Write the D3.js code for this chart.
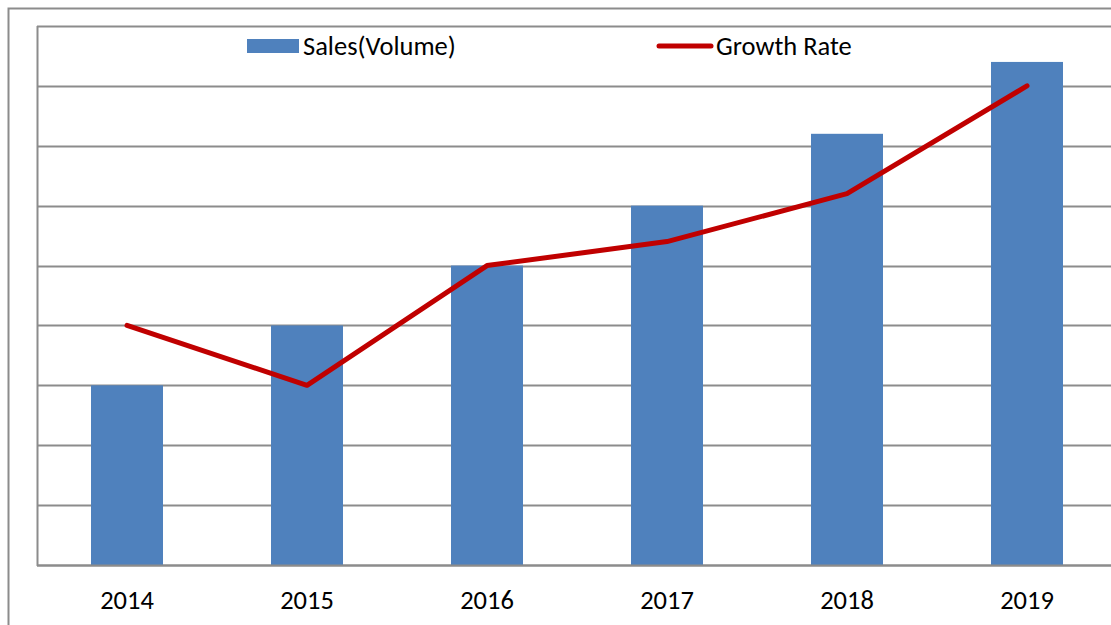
<!DOCTYPE html>
<html>
<head>
<meta charset="utf-8">
<script src="https://cdn.jsdelivr.net/npm/d3@7"></script>
<style>
	body{margin:0;background:#fff;}
	text{font-family:Calibri,Carlito,"Liberation Sans",Arial,sans-serif;fill:#000;}
</style>
</head>
<body>
<div id="chart_div"></div>
<script>
////////////////////////////////////////

var years = ['2014','2015','2016','2017','2018','2019'];
var salesVolume = [3, 4, 5, 6, 7.2, 8.4];
var growthRate = [4, 3, 5, 5.4, 6.2, 8];
var gridTicks = [0,1,2,3,4,5,6,7,8,9];

var chart_w = 1111;
var chart_h = 625;

////////////////////////////////////////

var vis = d3.select('#chart_div')
	.append('svg')
	.attr('width',chart_w)
	.attr('height',chart_h);

// outer frame
vis.append('path')
	.attr('d','M8.5,'+chart_h+'V8.5H'+chart_w)
	.attr('fill','none')
	.attr('stroke','#8c8c8c')
	.attr('stroke-width',2);

var x = d3.scaleBand()
	.domain(years)
	.range([37,37+180*6])
	.padding(0);

var y = d3.scaleLinear()
	.domain([0,9])
	.range([565,26]);

// gridlines
vis.selectAll('line.grid')
	.data(gridTicks)
	.enter()
		.append('line')
		.attr('class','grid')
		.attr('x1',37)
		.attr('x2',chart_w)
		.attr('y1',function(d){ return Math.round(y(d))+0.5; })
		.attr('y2',function(d){ return Math.round(y(d))+0.5; })
		.attr('stroke','#8c8c8c')
		.attr('stroke-width',2);

vis.append('line')
	.attr('x1',37.5).attr('x2',37.5)
	.attr('y1',y(9)).attr('y2',y(0)+1)
	.attr('stroke','#8c8c8c')
	.attr('stroke-width',2);

// bars
var barW = x.bandwidth()*0.4;
vis.selectAll('rect.bar')
	.data(salesVolume)
	.enter()
		.append('rect')
		.attr('class','bar')
		.attr('x',function(d,i){ return x(years[i])+x.bandwidth()/2-barW/2; })
		.attr('y',function(d){ return y(d); })
		.attr('width',barW)
		.attr('height',function(d){ return y(0)-y(d); })
		.attr('fill','#4f81bd');

// redraw axis line over bars
vis.append('line')
	.attr('x1',37).attr('x2',chart_w)
	.attr('y1',Math.round(y(0))+0.5).attr('y2',Math.round(y(0))+0.5)
	.attr('stroke','#8c8c8c')
	.attr('stroke-width',2);

// growth line
var line = d3.line()
	.x(function(d,i){ return x(years[i])+x.bandwidth()/2; })
	.y(function(d){ return y(d); });

vis.append('path')
	.datum(growthRate)
	.attr('d',line)
	.attr('fill','none')
	.attr('stroke','#c00000')
	.attr('stroke-width',5)
	.attr('stroke-linejoin','round')
	.attr('stroke-linecap','round');

// x axis labels
vis.selectAll('text.xlabel')
	.data(years)
	.enter()
		.append('text')
		.attr('class','xlabel')
		.attr('x',function(d){ return x(d)+x.bandwidth()/2; })
		.attr('y',609)
		.attr('text-anchor','middle')
		.attr('font-size',26.5)
		.text(function(d){ return d; });

////////////////////////////////////////
// legend

vis.append('rect')
	.attr('x',247).attr('y',39)
	.attr('width',52).attr('height',14)
	.attr('fill','#4f81bd');

vis.append('text')
	.attr('x',303).attr('y',55)
	.attr('font-size',26.5)
	.text('Sales(Volume)');

vis.append('line')
	.attr('x1',659).attr('x2',711)
	.attr('y1',46).attr('y2',46)
	.attr('stroke','#c00000')
	.attr('stroke-width',5)
	.attr('stroke-linecap','round');

vis.append('text')
	.attr('x',716).attr('y',55)
	.attr('font-size',26.5)
	.text('Growth Rate');
</script>
</body>
</html>
